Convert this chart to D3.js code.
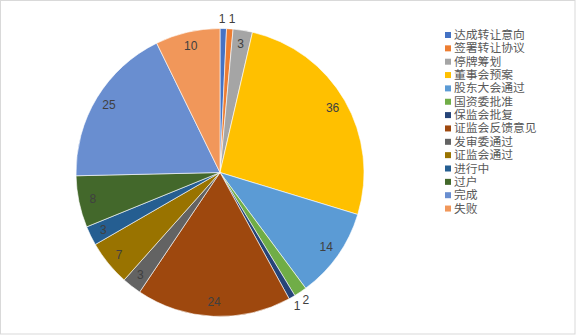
<!DOCTYPE html>
<html>
<head>
<meta charset="utf-8">
<script src="https://cdn.jsdelivr.net/npm/d3@7"></script>
<style>
  body { margin: 0; background: #fff; }
  svg { display: block; }
</style>
</head>
<body>
<svg id="chart" width="576" height="336"></svg>
<script>
const categories = ['达成转让意向', '签署转让协议', '停牌筹划', '董事会预案', '股东大会通过', '国资委批准',
  '保监会批复', '证监会反馈意见', '发审委通过', '证监会通过', '进行中', '过户', '完成', '失败'];
const values = [1, 1, 3, 36, 14, 2, 1, 24, 3, 7, 3, 8, 25, 10];
const colors = ['#4472C4', '#ED7D31', '#A5A5A5', '#FFC000', '#5B9BD5', '#70AD47', '#264478',
  '#9E480E', '#636363', '#997300', '#255E91', '#43682B', '#698ED0', '#F1975A'];

const data = categories.map((c, i) => ({name: c, value: values[i], color: colors[i]}));

const svg = d3.select('#chart');

// outer frame
svg.append('rect')
    .attr('x', 0.5).attr('y', 0.5)
    .attr('width', 574.5).attr('height', 333.5)
    .attr('fill', '#fff')
    .attr('stroke', '#d9d9d9');

const cx = 220, cy = 172.5, radius = 144;

const pie = d3.pie().sort(null).value(d => d.value);
const arc = d3.arc().innerRadius(0).outerRadius(radius);
const arcs = pie(data);

const g = svg.append('g').attr('transform', 'translate(' + cx + ',' + cy + ')');

g.selectAll('path')
    .data(arcs)
    .enter()
    .append('path')
    .attr('d', arc)
    .attr('fill', d => d.data.color)
    .attr('stroke', '#fff')
    .attr('stroke-width', 0.6);

// labels: small slices outside, rest inside near the edge
const inArc = d3.arc().innerRadius(130).outerRadius(130);
const outArc = d3.arc().innerRadius(154).outerRadius(154);

const pos = arcs.map(d => (d.data.value <= 2 ? outArc : inArc).centroid(d));
// push apart outside labels that sit too close together
for (let i = 1; i < arcs.length; i++) {
    if (arcs[i].data.value > 2 || arcs[i - 1].data.value > 2) continue;
    const dx = pos[i][0] - pos[i - 1][0], dy = pos[i][1] - pos[i - 1][1];
    const dist = Math.hypot(dx, dy);
    if (dist < 10) {
        const k = (10 - dist) / 2;
        const s = dx >= 0 ? 1 : -1;
        pos[i - 1][0] -= s * k;
        pos[i][0] += s * k;
    }
}

g.selectAll('text.lbl')
    .data(arcs)
    .enter()
    .append('text')
    .attr('class', 'lbl')
    .attr('transform', (d, i) => 'translate(' + pos[i] + ')')
    .attr('text-anchor', 'middle')
    .attr('dominant-baseline', 'central')
    .attr('font-family', 'Liberation Sans, Arial, sans-serif')
    .attr('font-size', 12)
    .attr('fill', '#404040')
    .text(d => d.data.value);

// legend
const legend = svg.append('g').attr('transform', 'translate(445,35)');
const item = legend.selectAll('g')
    .data(data)
    .enter()
    .append('g')
    .attr('transform', (d, i) => 'translate(0,' + (i * 13.35) + ')');

item.append('rect')
    .attr('x', 0).attr('y', -3)
    .attr('width', 6).attr('height', 6)
    .attr('fill', d => d.color);

item.append('text')
    .attr('x', 9)
    .attr('y', 0)
    .attr('dominant-baseline', 'central')
    .attr('font-family', 'Liberation Sans, Noto Sans CJK SC, sans-serif')
    .attr('font-size', 11.8)
    .attr('fill', '#595959')
    .text(d => d.name);
</script>
</body>
</html>
